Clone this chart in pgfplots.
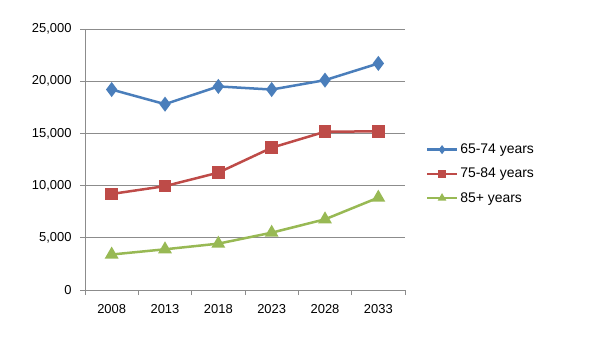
\documentclass[border=0pt]{standalone}
\usepackage{pgfplots}
\pgfplotsset{compat=1.18}
\usepackage{fontspec}
\setmainfont{Liberation Sans}
\definecolor{cblue}{HTML}{4A7EBB}
\definecolor{cred}{HTML}{BE4B48}
\definecolor{cgreen}{HTML}{98B954}
\definecolor{cgrid}{HTML}{8C8C8C}
\begin{document}
\begin{tikzpicture}[x=1bp,y=1bp]
\useasboundingbox (0,0) rectangle (613,337);
\begin{axis}[
  at={(85bp,47bp)}, anchor=south west,
  scale only axis, width=320bp, height=261bp,
  xmin=-0.5, xmax=5.5, ymin=0, ymax=25000,
  xtick={0,1,2,3,4,5},
  xticklabels={2008,2013,2018,2023,2028,2033},
  minor xtick={-0.5,0.5,1.5,2.5,3.5,4.5,5.5},
  ytick={0,5000,10000,15000,20000,25000},
  scaled y ticks=false,
  /pgf/number format/1000 sep={,},
  /pgf/number format/assume math mode=true,
  axis x line*=bottom, axis y line*=left,
  axis line style={cgrid, line width=0.8bp, -},
  ymajorgrids, grid style={cgrid, line width=0.8bp},
  tick align=outside,
  major x tick style={draw=none},
  minor x tick style={cgrid, line width=0.8bp},
  major y tick style={cgrid, line width=0.8bp},
  major tick length=5bp, minor tick length=5bp,
  ticklabel style={font=\fontsize{13}{15}\selectfont, text=black},
  xticklabel style={yshift=-6bp},
  yticklabel style={xshift=-5bp},
  legend style={at={(1.055,0.445)}, anchor=west, draw=none, fill=none,
    font=\fontsize{14}{16}\selectfont, row sep=9bp,
    legend cell align=left},
  legend image code/.code={
    \draw[#1, mark=none] (0bp,0bp) -- (30bp,0bp);
    \draw[#1, only marks, mark size=2.5bp] plot coordinates {(15bp,0bp)};
  },
]
\addplot[cblue, line width=2.5bp, mark=diamond*, mark size=5.5bp, mark options={solid}]
  coordinates {(0,19200) (1,17800) (2,19500) (3,19200) (4,20100) (5,21700)};
\addlegendentry{65-74 years}
\addplot[cred, line width=2.5bp, mark=square*, mark size=5bp]
  coordinates {(0,9200) (1,9950) (2,11240) (3,13630) (4,15160) (5,15200)};
\addlegendentry{75-84 years}
\addplot[cgreen, line width=2.5bp, mark=triangle*, mark size=5.5bp]
  coordinates {(0,3400) (1,3900) (2,4440) (3,5490) (4,6770) (5,8850)};
\addlegendentry{85+ years}
\end{axis}
\end{tikzpicture}
\end{document}
